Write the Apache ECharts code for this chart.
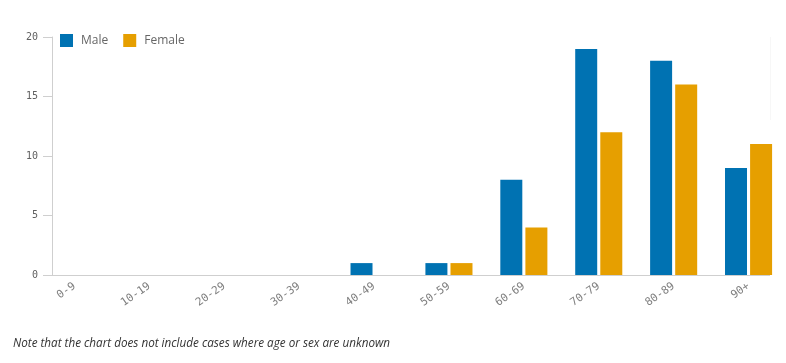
<!DOCTYPE html>
<html>
<head>
<meta charset="utf-8">
<script src="https://cdn.jsdelivr.net/npm/echarts@6/dist/echarts.min.js"></script>
<style>
  html, body { margin: 0; padding: 0; background: #fff; }
  #chart { width: 786px; height: 363px; }
</style>
</head>
<body>
<div id="chart"></div>
<script>
const ageGroups = ['0-9', '10-19', '20-29', '30-39', '40-49', '50-59', '60-69', '70-79', '80-89', '90+'];
const maleCases = [0, 0, 0, 0, 1, 1, 8, 19, 18, 9];
const femaleCases = [0, 0, 0, 0, 0, 1, 4, 12, 16, 11];
const yTicks = [0, 5, 10, 15, 20];

const myChart = echarts.init(document.getElementById('chart'));

const monoFont = '"DejaVu Sans Mono", monospace';

const option = {
  animation: false,
  legend: {
    left: 55,
    top: 29,
    itemWidth: 13,
    itemHeight: 13,
    itemGap: 15,
    icon: 'rect',
    textStyle: {
      color: '#666',
      fontSize: 12,
      fontFamily: '"Open Sans", sans-serif',
      padding: [0, 0, 0, 3]
    },
    data: ['Male', 'Female']
  },
  grid: {
    left: 37,
    top: 37,
    width: 750,
    bottom: 88
  },
  xAxis: {
    type: 'category',
    data: ageGroups,
    axisLine: { show: false },
    axisTick: { show: false },
    axisLabel: {
      rotate: 35,
      margin: 10,
      color: '#808080',
      fontSize: 11,
      fontFamily: monoFont
    }
  },
  yAxis: {
    type: 'value',
    min: yTicks[0],
    max: yTicks[yTicks.length - 1],
    interval: 5,
    offset: -15,
    axisLine: { show: true, lineStyle: { color: '#cfcfcf' } },
    axisTick: { show: true, length: 9, lineStyle: { color: '#cfcfcf' } },
    splitLine: { show: false },
    axisLabel: {
      margin: 14,
      color: '#606060',
      fontSize: 10,
      fontFamily: monoFont
    }
  },
  graphic: [
    {
      type: 'line',
      shape: { x1: 52, y1: 275.5, x2: 770, y2: 275.5 },
      style: { stroke: '#cfcfcf', lineWidth: 1 },
      z: 0
    },
    {
      type: 'line',
      shape: { x1: 770.5, y1: 37, x2: 770.5, y2: 120 },
      style: { stroke: '#f7f7f7', lineWidth: 1 },
      z: 0
    },
    {
      type: 'text',
      left: 13,
      top: 338,
      style: {
        text: 'Note that the chart does not include cases where age or sex are unknown',
        fill: '#333',
        font: 'italic 11.7px "Open Sans", sans-serif'
      }
    }
  ],
  series: [
    {
      name: 'Male',
      type: 'bar',
      data: maleCases,
      barWidth: 22,
      barGap: '14%',
      itemStyle: { color: '#0072B2' },
      z: 2
    },
    {
      name: 'Female',
      type: 'bar',
      data: femaleCases,
      barWidth: 22,
      itemStyle: { color: '#E69F00' },
      z: 2
    }
  ]
};

myChart.setOption(option);
</script>
</body>
</html>
